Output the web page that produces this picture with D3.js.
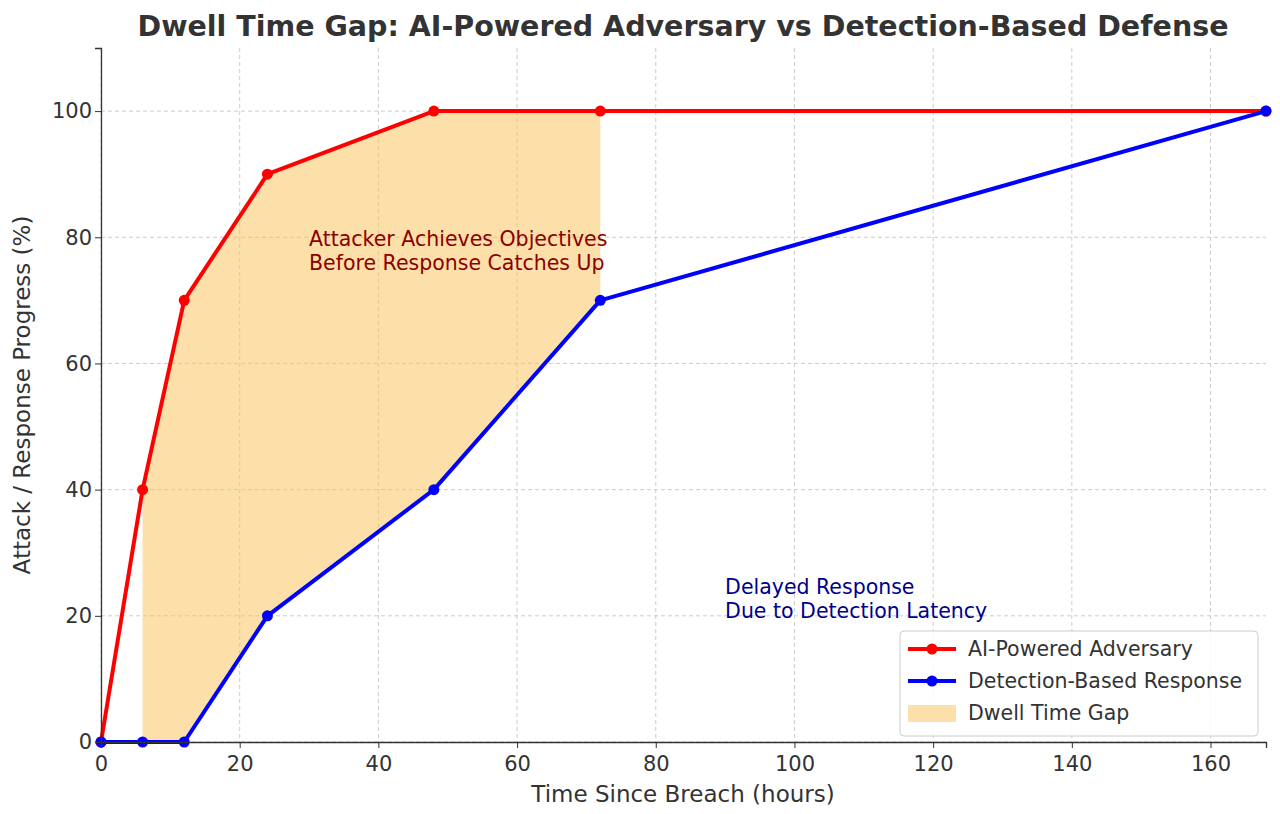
<!DOCTYPE html>
<html><head><meta charset="utf-8">
<script src="https://cdn.jsdelivr.net/npm/d3@7"></script>
<style>body{margin:0;background:#fff;font-family:"DejaVu Sans",sans-serif}</style>
</head><body><svg id="c" width="1280" height="814"></svg>
<script>
const hours = [0, 6, 12, 24, 48, 72, 168];
const attacker = [0, 40, 70, 90, 100, 100, 100];
const defender = [0, 0, 0, 20, 40, 70, 100];
const xTicks = [0, 20, 40, 60, 80, 100, 120, 140, 160];
const yTicks = [0, 20, 40, 60, 80, 100];

const svg = d3.select("#c");
const m = {l:101, r:1266, t:48, b:742};
const x = d3.scaleLinear().domain([0,168]).range([m.l,m.r]);
const y = d3.scaleLinear().domain([0,110]).range([m.b,m.t]);

const g = svg.append("g");
xTicks.forEach(t=>g.append("line").attr("x1",x(t)).attr("x2",x(t)).attr("y1",m.t).attr("y2",m.b).attr("stroke","#ccc").attr("stroke-dasharray","4,3"));
yTicks.forEach(t=>g.append("line").attr("x1",m.l).attr("x2",m.r).attr("y1",y(t)).attr("y2",y(t)).attr("stroke","#ccc").attr("stroke-dasharray","4,3"));

const fillIdx = hours.map((h,i)=>i).filter(i=>hours[i]>=6 && hours[i]<=72);
svg.append("path").datum(fillIdx)
  .attr("d", d3.area().x(i=>x(hours[i])).y0(i=>y(defender[i])).y1(i=>y(attacker[i])))
  .attr("fill","#fbbf55").attr("opacity",0.5);

function series(vals,color){
  const idx = hours.map((h,i)=>i);
  svg.append("path").datum(idx).attr("d",d3.line().x(i=>x(hours[i])).y(i=>y(vals[i])))
    .attr("fill","none").attr("stroke",color).attr("stroke-width",4).attr("stroke-linejoin","round");
  svg.selectAll(null).data(idx).enter().append("circle").attr("cx",i=>x(hours[i])).attr("cy",i=>y(vals[i])).attr("r",5.5).attr("fill",color);
}
series(attacker,"#ff0000");
series(defender,"#0000ff");

const xa = svg.append("g").attr("transform",`translate(0,${m.b})`).call(d3.axisBottom(x).tickValues(xTicks).tickSize(6));
const ya = svg.append("g").attr("transform",`translate(${m.l},0)`).call(d3.axisLeft(y).tickValues(yTicks).tickSize(6));
[xa,ya].forEach(a=>{a.selectAll("text").attr("font-size",21).attr("fill","#333").attr("font-family","DejaVu Sans");a.select(".domain").attr("stroke","#333").attr("stroke-width",1.3);a.selectAll(".tick line").attr("stroke","#333");});
xa.selectAll("text").attr("dy","0.95em");

svg.append("text").attr("x",683).attr("y",36).attr("text-anchor","middle").attr("font-size",28.5).attr("font-weight","bold").attr("fill","#333").text("Dwell Time Gap: AI-Powered Adversary vs Detection-Based Defense");
svg.append("text").attr("x",683).attr("y",802).attr("text-anchor","middle").attr("font-size",23).attr("fill","#333").text("Time Since Breach (hours)");
svg.append("text").attr("transform","translate(30,395) rotate(-90)").attr("text-anchor","middle").attr("font-size",23).attr("fill","#333").text("Attack / Response Progress (%)");

function ann(lines,px,py,color){
  const t=svg.append("text").attr("x",x(px)).attr("y",y(py)).attr("font-size",20.5).attr("fill",color);
  lines.forEach((l,i)=>t.append("tspan").attr("x",x(px)).attr("dy",i?"1.15em":0).text(l));
}
ann(["Attacker Achieves Objectives","Before Response Catches Up"],30,78.6,"#8b0000");
ann(["Delayed Response","Due to Detection Latency"],90,23.4,"#00008b");

const lg = svg.append("g").attr("transform","translate(900,631)");
lg.append("rect").attr("width",358).attr("height",105).attr("rx",4).attr("fill","#fff").attr("fill-opacity",0.85).attr("stroke","#ccc");
const items=[["AI-Powered Adversary","#ff0000","line"],["Detection-Based Response","#0000ff","line"],["Dwell Time Gap","#fbbf55","rect"]];
items.forEach((d,i)=>{
  const yy=18+i*32;
  if(d[2]==="line"){
    lg.append("line").attr("x1",8).attr("x2",56).attr("y1",yy).attr("y2",yy).attr("stroke",d[1]).attr("stroke-width",4);
    lg.append("circle").attr("cx",32).attr("cy",yy).attr("r",5.5).attr("fill",d[1]);
  } else lg.append("rect").attr("x",8).attr("y",yy-8).attr("width",48).attr("height",17).attr("fill",d[1]).attr("opacity",0.5);
  lg.append("text").attr("x",68).attr("y",yy+7).attr("font-size",20.5).attr("fill","#333").text(d[0]);
});
</script></body></html>
